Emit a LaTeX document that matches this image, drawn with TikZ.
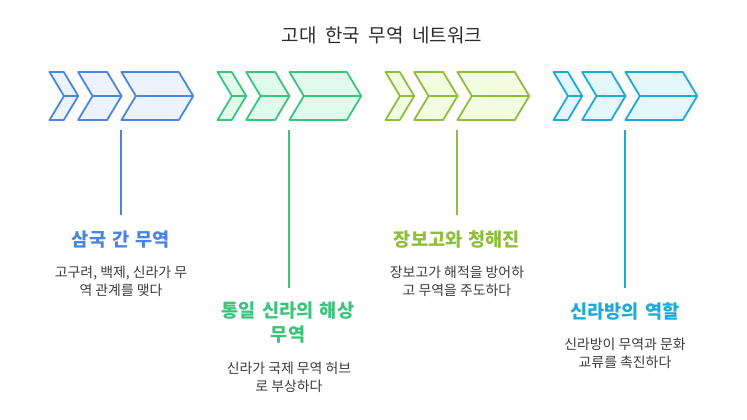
\documentclass[tikz,border=0pt]{standalone}
\usepackage{fontspec}
\setmainfont{Noto Sans CJK KR}
\definecolor{bluS}{RGB}{74,134,224}
\definecolor{bluF}{RGB}{236,243,254}
\definecolor{grnS}{RGB}{60,196,124}
\definecolor{grnF}{RGB}{224,251,236}
\definecolor{olvS}{RGB}{141,190,60}
\definecolor{olvF}{RGB}{242,252,224}
\definecolor{cynS}{RGB}{30,170,216}
\definecolor{cynF}{RGB}{228,247,253}
\definecolor{descC}{RGB}{60,60,60}
\definecolor{mainC}{RGB}{45,45,45}
\newcommand{\ttlfont}{\fontsize{18.6}{24}\selectfont\bfseries\spaceskip 6.3pt\relax}
\newcommand{\mainfontsz}{\fontsize{19}{20}\selectfont\spaceskip 8.6pt\relax}
\tikzset{
  chev/.style={line width=1.8pt, line join=round},
  stemline/.style={line width=2pt},
  ttl/.style={font=\ttlfont, align=center, inner sep=0pt},
  dsc/.style={font=\fontsize{13.9}{18.5}\selectfont, text=descC, align=center, inner sep=0pt},
}
\newcommand{\chevgroup}[3]{%
  \foreach \cl/\cr in {0/14.3, 28.6/57.6, 71.9/129.3}{%
    \pgfmathsetmacro{\xl}{#1+\cl}%
    \pgfmathsetmacro{\xr}{#1+\cr}%
    \pgfmathsetmacro{\xn}{#1+\cl+14.4}%
    \pgfmathsetmacro{\xt}{#1+\cr+14.4}%
    \draw[chev, draw=#2, fill=#3] (\xl,72) -- (\xr,72) -- (\xt,96) -- (\xn,96) -- cycle;
    \draw[chev, draw=#2, fill=#3] (\xn,96) -- (\xt,96) -- (\xr,120) -- (\xl,120) -- cycle;
  }%
}
\begin{document}
\begin{tikzpicture}[x=1pt,y=-1pt]
\useasboundingbox (0,0) rectangle (747,420);
\node[font=\mainfontsz, text=mainC, inner sep=0pt] (title) at (382,35) {고대 한국 무역 네트워크};

\chevgroup{49.5}{bluS}{bluF}
\chevgroup{217.5}{grnS}{grnF}
\chevgroup{385.5}{olvS}{olvF}
\chevgroup{553.5}{cynS}{cynF}

% blue
\coordinate (s1a) at (121,130);
\coordinate (s1b) at (121,215);
\draw[stemline, color=bluS] (s1a) -- (s1b);
\node[ttl, text=bluS] (t1) at (121,240) {삼국 간 무역};
\node[dsc] (d1) at (121,281.5) {고구려, 백제, 신라가 무\\역 관계를 맺다};

% green
\coordinate (s2a) at (289,130);
\coordinate (s2b) at (289,288);
\draw[stemline, color=grnS] (s2a) -- (s2b);
\node[ttl, text=grnS] (t2) at (288,323) {통일 신라의 해상\\무역};
\node[dsc] (d2) at (289,377.5) {신라가 국제 무역 허브\\로 부상하다};

% olive
\coordinate (s3a) at (457,130);
\coordinate (s3b) at (457,215);
\draw[stemline, color=olvS] (s3a) -- (s3b);
\node[ttl, text=olvS] (t3) at (457,240) {장보고와 청해진};
\node[dsc] (d3) at (457,281.5) {장보고가 해적을 방어하\\고 무역을 주도하다};

% cyan
\coordinate (s4a) at (625,130);
\coordinate (s4b) at (625,288);
\draw[stemline, color=cynS] (s4a) -- (s4b);
\node[ttl, text=cynS] (t4) at (625,311.5) {신라방의 역할};
\node[dsc] (d4) at (625,353.5) {신라방이 무역과 문화\\교류를 촉진하다};
\end{tikzpicture}
\end{document}
